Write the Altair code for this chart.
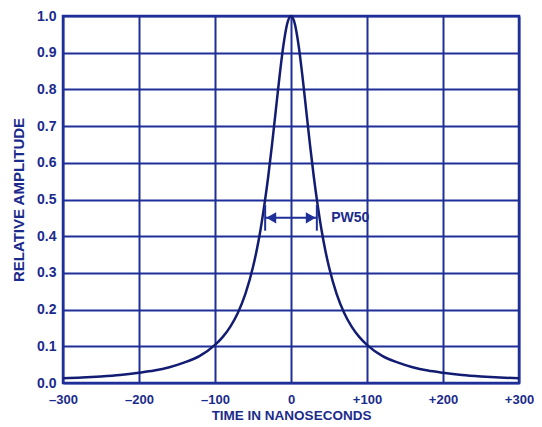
import altair as alt
import pandas as pd

# Pulse curve (time in ns, relative amplitude)
time_ns = [-300, -275, -250, -225, -200, -180, -160, -140, -120, -100, -90, -80, -70, -60,
           -50, -45, -40, -35, -30, -25, -20, -15, -10, -5, 0,
           5, 10, 15, 20, 25, 30, 35, 40, 45, 50, 60, 70, 80, 90, 100,
           120, 140, 160, 180, 200, 225, 250, 275, 300]
amplitude = [0.013, 0.015, 0.018, 0.022, 0.028, 0.034, 0.043, 0.056, 0.074, 0.104, 0.125, 0.153, 0.191, 0.243,
             0.316, 0.363, 0.419, 0.486, 0.562, 0.649, 0.743, 0.837, 0.920, 0.979, 1.0,
             0.979, 0.920, 0.837, 0.743, 0.649, 0.562, 0.486, 0.419, 0.363, 0.316, 0.243, 0.191, 0.153, 0.125, 0.104,
             0.074, 0.056, 0.043, 0.034, 0.028, 0.022, 0.018, 0.015, 0.013]

x_ticks = [-300, -200, -100, 0, 100, 200, 300]
y_ticks = [0.0, 0.1, 0.2, 0.3, 0.4, 0.5, 0.6, 0.7, 0.8, 0.9, 1.0]

# PW50 annotation
pw_left, pw_right = -34, 34
pw_level = 0.45
pw_bar_low, pw_bar_high = 0.415, 0.485
pw_label = "PW50"
pw_label_x = 53

GRID = "#1e2f98"
TEXT = "#1b2b8c"
CURVE = "#121c72"
FONT = "Liberation Sans"

curve_df = pd.DataFrame({"t": time_ns, "a": amplitude})

xs = alt.Scale(domain=[-300, 300], nice=False, zero=False)
ys = alt.Scale(domain=[0, 1], nice=False, zero=True)

x_axis = alt.Axis(values=x_ticks, title="TIME IN NANOSECONDS",
                  labelExpr="datum.value > 0 ? '+' + datum.value : (datum.value < 0 ? '\u2013' + abs(datum.value) : '0')",
                  grid=True, gridColor=GRID, gridWidth=2, gridOpacity=1,
                  domain=False, ticks=False, labelPadding=10, titlePadding=2,
                  labelFont=FONT, labelFontSize=13, labelFontWeight="bold", labelColor=TEXT,
                  titleFont=FONT, titleFontSize=13.5, titleFontWeight="bold", titleColor=TEXT,
                  labelFlush=False, labelOverlap=False)
y_axis = alt.Axis(values=y_ticks, title="RELATIVE AMPLITUDE", format=".1f",
                  grid=True, gridColor=GRID, gridWidth=2, gridOpacity=1,
                  domain=False, ticks=False, labelPadding=7, titlePadding=10,
                  labelFont=FONT, labelFontSize=14, labelFontWeight="bold", labelColor=TEXT,
                  titleFont=FONT, titleFontSize=15, titleFontWeight="bold", titleColor=TEXT,
                  labelFlush=False, labelOverlap=False)

line = alt.Chart(curve_df).mark_line(color=CURVE, strokeWidth=2.5, interpolate="monotone").encode(
    x=alt.X("t:Q", scale=xs, axis=x_axis),
    y=alt.Y("a:Q", scale=ys, axis=y_axis),
)

arrow_df = pd.DataFrame({"x1": [pw_left], "x2": [pw_right], "y": [pw_level]})
arrow = alt.Chart(arrow_df).mark_rule(color=GRID, strokeWidth=2).encode(
    x=alt.X("x1:Q", scale=xs, axis=x_axis), x2="x2:Q", y=alt.Y("y:Q", scale=ys, axis=y_axis))

bars_df = pd.DataFrame({"x": [pw_left, pw_right], "y1": [pw_bar_low] * 2, "y2": [pw_bar_high] * 2})
bars = alt.Chart(bars_df).mark_rule(color=GRID, strokeWidth=2).encode(
    x=alt.X("x:Q", scale=xs, axis=x_axis), y=alt.Y("y1:Q", scale=ys, axis=y_axis), y2="y2:Q")

heads_df = pd.DataFrame({"x": [pw_left + 8, pw_right - 8], "y": [pw_level] * 2,
                         "shape": ["triangle-left", "triangle-right"]})
heads = alt.Chart(heads_df).mark_point(filled=True, opacity=1, color=GRID, size=130).encode(
    x=alt.X("x:Q", scale=xs, axis=x_axis), y=alt.Y("y:Q", scale=ys, axis=y_axis),
    shape=alt.Shape("shape:N", scale=None))

label_df = pd.DataFrame({"x": [pw_label_x], "y": [pw_level], "text": [pw_label]})
label = alt.Chart(label_df).mark_text(align="left", baseline="middle", font=FONT, fontSize=14,
                                      fontWeight="bold", color=TEXT).encode(
    x=alt.X("x:Q", scale=xs, axis=x_axis), y=alt.Y("y:Q", scale=ys, axis=y_axis), text="text:N")

chart = alt.layer(line, arrow, bars, heads, label).properties(
    width=456, height=367,
    padding={"left": 55, "top": 8, "right": 15, "bottom": 40},
    autosize=alt.AutoSizeParams(type="none"),
    background="white",
).configure_view(stroke=GRID, strokeWidth=2.5)

chart.save("out.html", embed_options={"renderer": "svg", "actions": False})
